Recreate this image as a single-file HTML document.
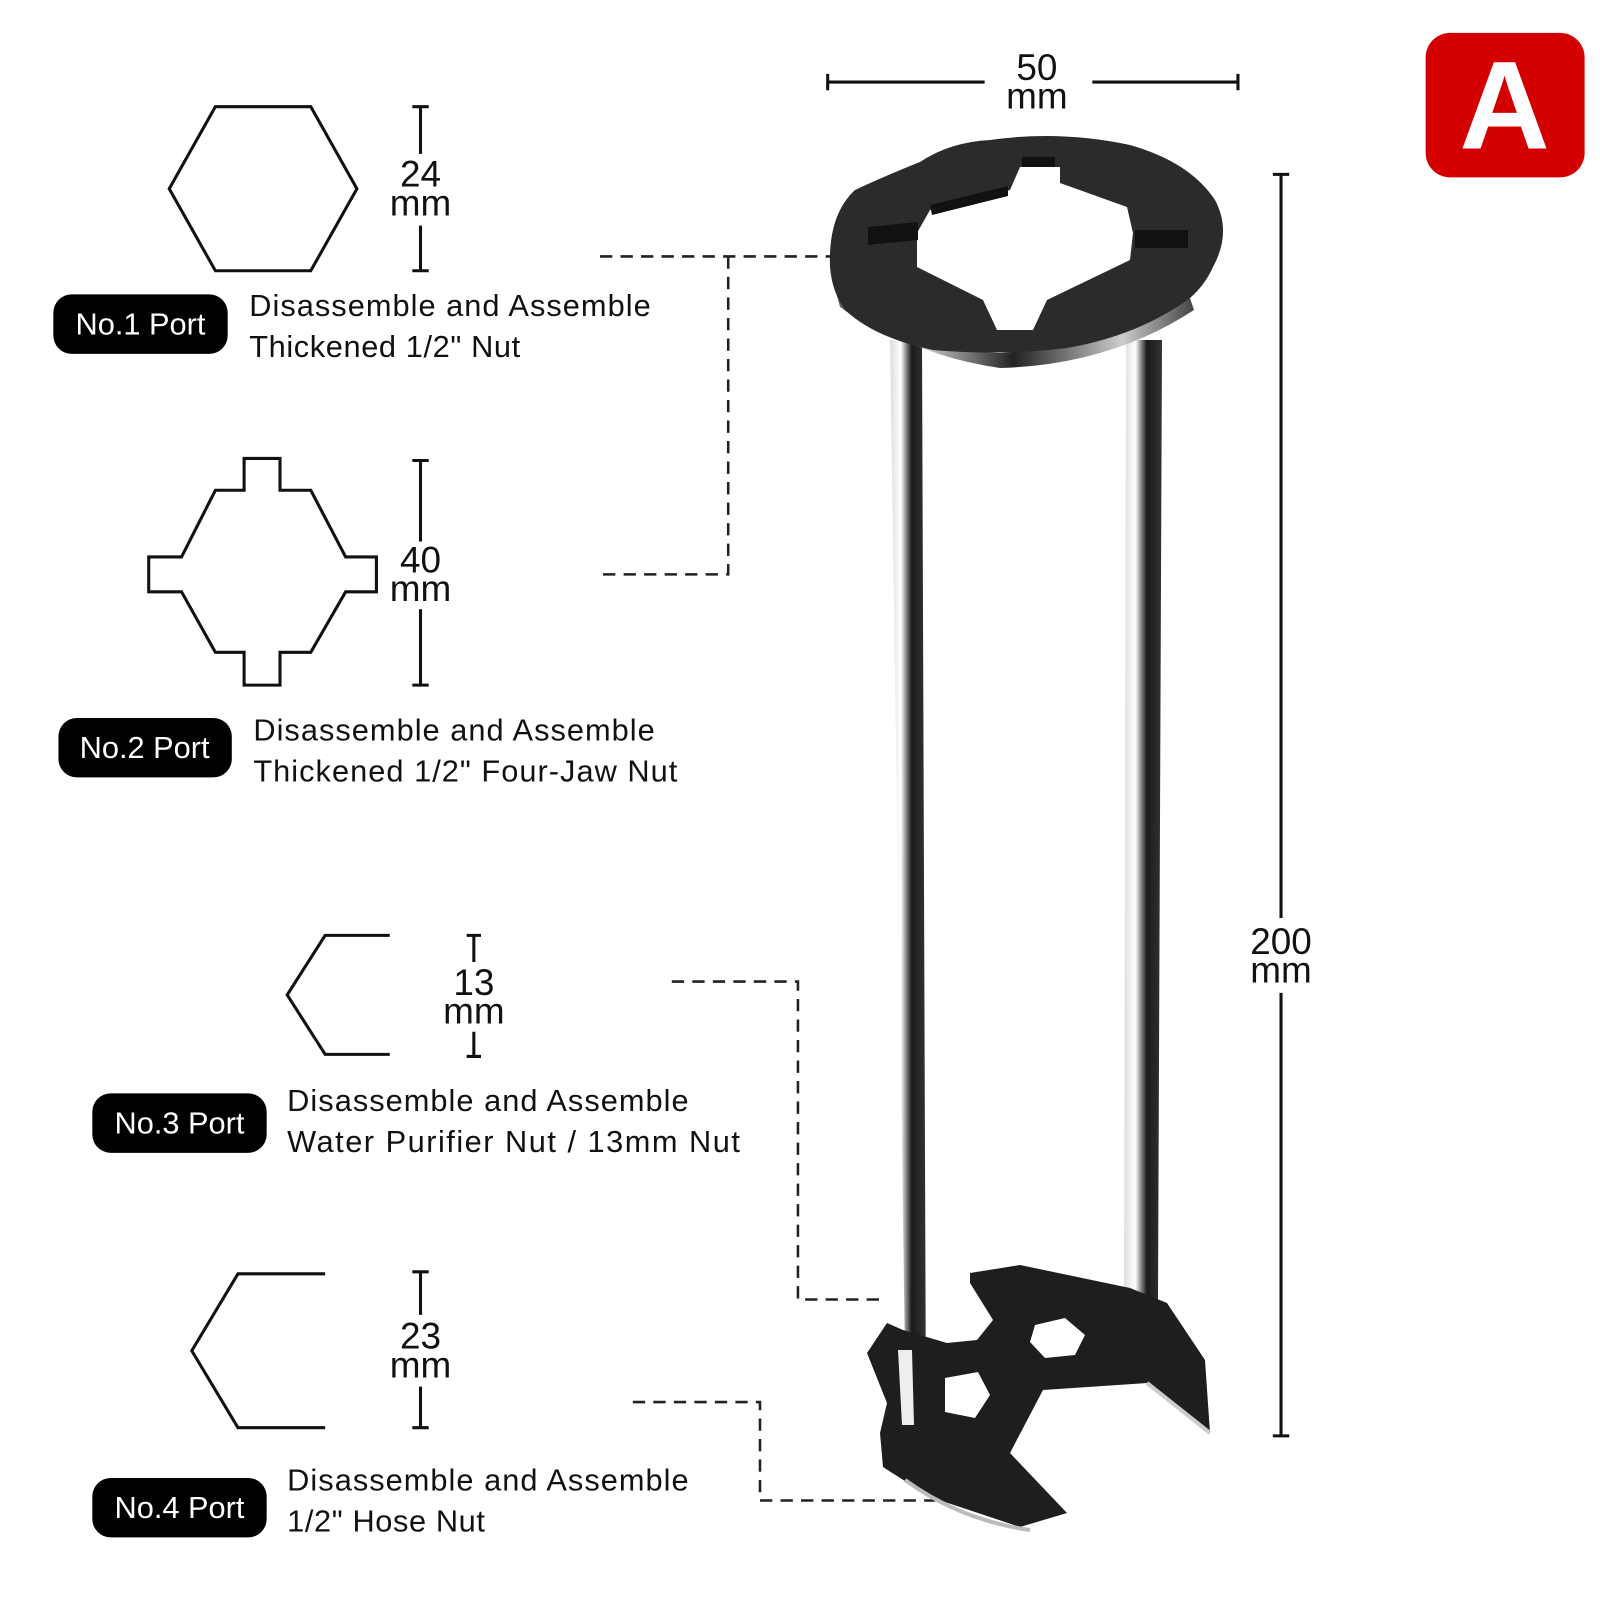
<!DOCTYPE html>
<html><head><meta charset="utf-8"><style>
html,body{margin:0;padding:0;background:#fff;}
svg{display:block}
.d{font-family:"Liberation Sans Narrow","Liberation Sans",sans-serif;font-size:36px;fill:#111;text-anchor:middle}
.t{font-family:"Liberation Sans",sans-serif;font-size:30px;fill:#111;letter-spacing:0.6px}
.p{font-family:"Liberation Sans",sans-serif;font-size:30px;fill:#fff;text-anchor:middle}
</style></head><body>
<svg width="1600" height="1600" viewBox="0 0 1560 1560" xmlns="http://www.w3.org/2000/svg">
<defs>
<linearGradient id="rod" x1="0" x2="1" y1="0" y2="0">
<stop offset="0" stop-color="#ddd"/><stop offset="0.3" stop-color="#fff"/><stop offset="0.45" stop-color="#888"/><stop offset="0.6" stop-color="#1a1a1a"/><stop offset="1" stop-color="#333"/>
</linearGradient>
<linearGradient id="edge" x1="0" x2="1" y1="0" y2="0">
<stop offset="0" stop-color="#555"/><stop offset="0.2" stop-color="#eee"/><stop offset="0.5" stop-color="#222"/><stop offset="0.8" stop-color="#ccc"/><stop offset="1" stop-color="#444"/>
</linearGradient>
</defs>
<g fill="none" stroke="#111" stroke-width="3">
<polygon points="210,104 303,104 348,184 303,264 210,264 165,184"/>
<polygon points="238,447 273,447 273,478 303,478 337,543 367,543 367,577 337,577 303,636 273,636 273,668 238,668 238,636 210,636 177,577 145,577 145,543 177,543 210,478 238,478"/>
<polyline points="380,912 317,912 280,970 317,1028 380,1028"/>
<polyline points="317,1242 232,1242 187,1317 232,1392 317,1392"/>
<path d="M410,104V150M410,220V264M402,104H418M402,264H418"/>
<path d="M410,449V528M410,594V668M402,449H418M402,668H418"/>
<path d="M462,912V938M462,1006V1030M455,912H469M455,1030H469"/>
<path d="M410,1240V1282M410,1352V1392M402,1240H418M402,1392H418"/>
<path d="M807,80H960M1065,80H1207M807,72V88M1207,72V88"/>
<path d="M1249,170V895M1249,968V1400M1241,170H1257M1241,1400H1257"/>
</g>
<g fill="none" stroke="#222" stroke-width="2.5" stroke-dasharray="12,8">
<path d="M585,250H810M710,250V560H585"/>
<path d="M655,957H778V1267H862"/>
<path d="M617,1367H741V1463H912"/>
</g>
<text class="d" x="410" y="182">24</text><text class="d" x="410" y="210">mm</text>
<text class="d" x="410" y="558">40</text><text class="d" x="410" y="586">mm</text>
<text class="d" x="462" y="970">13</text><text class="d" x="462" y="998">mm</text>
<text class="d" x="410" y="1315">23</text><text class="d" x="410" y="1343">mm</text>
<text class="d" x="1011" y="78">50</text><text class="d" x="1011" y="106">mm</text>
<text class="d" x="1249" y="930">200</text><text class="d" x="1249" y="958">mm</text>
<rect x="52" y="287" width="170" height="58" rx="18" fill="#000"/><text class="p" x="137" y="326">No.1 Port</text>
<rect x="57" y="700" width="169" height="58" rx="18" fill="#000"/><text class="p" x="141" y="739">No.2 Port</text>
<rect x="90" y="1066" width="170" height="58" rx="18" fill="#000"/><text class="p" x="175" y="1105">No.3 Port</text>
<rect x="90" y="1441" width="170" height="58" rx="18" fill="#000"/><text class="p" x="175" y="1480">No.4 Port</text>
<text class="t" x="243" y="308" textLength="392">Disassemble and Assemble</text><text class="t" x="243" y="348">Thickened 1/2" Nut</text>
<text class="t" x="247" y="722" textLength="392">Disassemble and Assemble</text><text class="t" x="247" y="762" textLength="414">Thickened 1/2" Four-Jaw Nut</text>
<text class="t" x="280" y="1083" textLength="392">Disassemble and Assemble</text><text class="t" x="280" y="1123" textLength="442">Water Purifier Nut / 13mm Nut</text>
<text class="t" x="280" y="1453" textLength="392">Disassemble and Assemble</text><text class="t" x="280" y="1493">1/2" Hose Nut</text>
<rect x="1390" y="32" width="155" height="141" rx="24" fill="#d40000"/>
<text x="1467" y="145" font-family="Liberation Sans,sans-serif" font-weight="bold" font-size="122" fill="#fff" text-anchor="middle">A</text>
<g transform="scale(0.975)">
<polygon points="890,340 922,340 926,1425 906,1425" fill="url(#rod)"/>
<polygon points="1126,340 1162,340 1158,1300 1124,1300" fill="url(#rod)"/>
<path d="M833,280 Q880,350 1000,368 Q1110,365 1194,310 L1190,298 Q1100,345 1000,353 Q900,350 840,307 Z" fill="url(#edge)"/>
<path fill="#2b2b2b" fill-rule="evenodd" d="M830,267 Q828,215 855,190 Q880,178 920,162 Q950,142 990,140 Q1060,130 1130,145 Q1190,162 1215,200 Q1232,232 1213,267 Q1205,285 1190,298 Q1140,335 1067,348 Q1000,356 933,350 Q875,338 845,310 Q832,292 830,267 Z
M917,233 L930,210 L1010,190 L1020,167 L1060,167 L1060,183 L1127,207 L1133,233 L1130,260 L1047,300 L1033,330 L997,330 L983,300 L917,267 Z"/>
<g fill="#111"><polygon points="1022,157 1055,157 1055,167 1022,167"/><polygon points="930,205 1008,186 1008,196 932,215"/><polygon points="868,227 918,222 918,240 868,245"/><polygon points="1135,230 1188,230 1188,248 1135,248"/></g>
<path fill="#1e1e1e" fill-rule="evenodd" d="M970,1273 L1020,1265 L1130,1288 L1167,1303 L1205,1360 L1210,1433 L1147,1383 L1043,1390 L1010,1453 L1067,1513 L1020,1527 L930,1497 L883,1467 L880,1433 L887,1403 L867,1353 L887,1323 L903,1330 L947,1343 L977,1340 L993,1320 L970,1283 Z
M1035,1325 L1065,1318 L1085,1335 L1075,1355 L1045,1358 L1030,1342 Z
M945,1378 L978,1372 L990,1395 L975,1418 L945,1412 Z"/>
<path d="M1147,1383 L1210,1433" stroke="#ccc" stroke-width="4"/>
<path d="M905,1480 Q960,1520 1030,1530" stroke="#bbb" stroke-width="4" fill="none"/>
<polygon points="898,1350 912,1350 914,1425 902,1425" fill="#eee"/>
</g>
</svg>
</body></html>
